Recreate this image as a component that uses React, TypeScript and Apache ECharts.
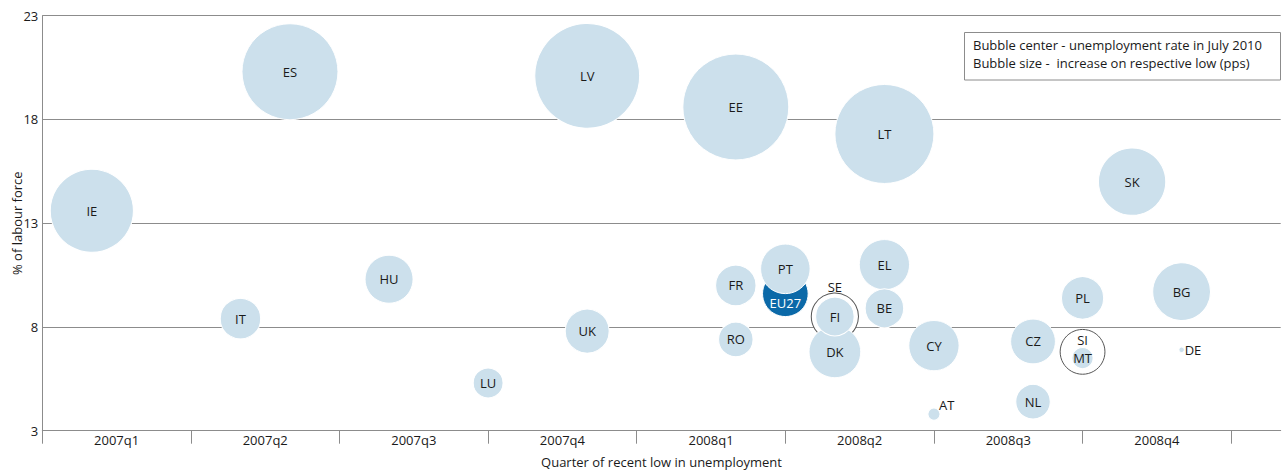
import React, { useEffect, useRef } from "react";
import * as echarts from "echarts";

// Country codes (draw order matters: later items are drawn on top)
const countries = ["IE", "IT", "ES", "HU", "LU", "UK", "LV", "FR", "RO", "EE", "EU27", "PT", "SE", "DK", "FI", "LT", "EL", "BE", "CY", "AT", "CZ", "NL", "SI", "MT", "PL", "SK", "BG", "DE"];
// Month position of the recent low (0 = start of 2007q1)
const lowMonth = [1, 4, 5, 7, 9, 11, 11, 14, 14, 14, 15, 15, 16, 16, 16, 17, 17, 17, 18, 18, 20, 20, 21, 21, 21, 22, 23, 23];
// Unemployment rate in July 2010 (% of labour force)
const rateJuly2010 = [13.6, 8.4, 20.3, 10.3, 5.3, 7.8, 20.1, 10.0, 7.4, 18.6, 9.6, 10.8, 8.5, 6.8, 8.5, 17.3, 11.0, 8.9, 7.1, 3.8, 7.3, 4.4, 6.8, 6.5, 9.4, 15.0, 9.7, 6.9];
// Increase on respective low (pps)
const increasePps = [9.3, 2.2, 12.4, 3.1, 1.2, 2.6, 14.8, 2.2, 1.6, 15.1, 2.8, 3.3, 3.0, 3.6, 2.0, 13.2, 3.4, 2.0, 3.4, 0.2, 2.7, 1.6, 2.7, 0.6, 2.4, 6.1, 4.5, 0.04];

// Axis tick labels
const quarterLabels = ["2007q1", "2007q2", "2007q3", "2007q4", "2008q1", "2008q2", "2008q3", "2008q4"];
const yTicks = [3, 8, 13, 18, 23];

const legendLines = ["Bubble center - unemployment rate in July 2010", "Bubble size -  increase on respective low (pps)"];

const FONT = "'Open Sans', 'Noto Sans', sans-serif";
const BUBBLE = "#cce0ec";
const EU_BLUE = "#0b69a8";
const GRAY = "#8c8c8c";
const TXT = "#1a1a1a";
const R_SCALE = 13.63;

const outlined = new Set(["SE", "SI"]);

function labelFor(code: string): any {
  const base: any = { show: true, formatter: code, fontFamily: FONT, fontSize: 13, color: TXT, position: "inside" };
  switch (code) {
    case "EU27":
      return { ...base, color: "#ffffff", offset: [0, 9] };
    case "SE":
      return { ...base, offset: [0, -30] };
    case "SI":
      return { ...base, offset: [0, -12] };
    case "AT":
      return { ...base, align: "left", offset: [5, -9] };
    case "DE":
      return { ...base, align: "left", offset: [3, 0] };
    default:
      return base;
  }
}

function itemStyleFor(code: string): any {
  if (outlined.has(code)) return { color: "#ffffff", borderColor: "#555555", borderWidth: 1, opacity: 1 };
  if (code === "EU27") return { color: EU_BLUE, borderColor: "#ffffff", borderWidth: 1, opacity: 1 };
  return { color: BUBBLE, borderColor: "#ffffff", borderWidth: 1, opacity: 1 };
}

export default function App() {
  const ref = useRef<HTMLDivElement>(null);

  useEffect(() => {
    if (!ref.current) return;
    const chart = echarts.init(ref.current, undefined, { renderer: "svg" });

    const data = countries.map((c, i) => ({
      name: c,
      value: [lowMonth[i], rateJuly2010[i], increasePps[i]],
      symbolSize: 2 * R_SCALE * Math.sqrt(increasePps[i]),
      itemStyle: itemStyleFor(c),
      label: labelFor(c),
    }));

    const tickValues = quarterLabels.map((_, i) => i * 3).concat([quarterLabels.length * 3]);
    const labelValues = quarterLabels.map((_, i) => i * 3 + 1.5);

    chart.setOption({
      animation: false,
      backgroundColor: "#ffffff",
      textStyle: { fontFamily: FONT },
      grid: { left: 42.3, right: 1.3, top: 15.7, bottom: 45.3, containLabel: false, outerBoundsMode: "none" },
      xAxis: {
        type: "value",
        min: 0,
        max: 25,
        name: "Quarter of recent low in unemployment",
        nameLocation: "middle",
        nameGap: 25,
        nameMoveOverlap: false,
        nameTextStyle: { fontFamily: FONT, fontSize: 13, color: TXT },
        axisLine: { show: true, lineStyle: { color: GRAY, width: 1 } },
        axisTick: { show: true, customValues: tickValues, length: 13, lineStyle: { color: GRAY, width: 1 } },
        axisLabel: {
          show: true,
          customValues: labelValues,
          formatter: (v: number) => quarterLabels[Math.round((v - 1.5) / 3)] ?? "",
          margin: 3,
          fontFamily: FONT,
          fontSize: 13,
          color: TXT,
        },
        splitLine: { show: false },
      },
      yAxis: {
        type: "value",
        min: yTicks[0],
        max: yTicks[yTicks.length - 1],
        interval: 5,
        name: "% of labour force",
        nameLocation: "middle",
        nameGap: 19,
        nameMoveOverlap: false,
        nameTextStyle: { fontFamily: FONT, fontSize: 13, color: TXT },
        axisLine: { show: true, lineStyle: { color: GRAY, width: 1 } },
        axisTick: { show: false },
        axisLabel: { margin: 4, fontFamily: FONT, fontSize: 13, color: TXT },
        splitLine: { show: true, lineStyle: { color: GRAY, width: 1 } },
      },
      series: [
        {
          type: "scatter",
          data,
          symbol: "circle",
          itemStyle: { opacity: 1 },
          emphasis: { disabled: true },
        },
      ],
      graphic: [
        {
          type: "rect",
          shape: { x: 964.5, y: 32.5, width: 316, height: 47.5 },
          style: { fill: "#ffffff", stroke: GRAY, lineWidth: 1 },
          z: 100,
        },
        {
          type: "text",
          x: 973,
          y: 45,
          style: { text: legendLines[0], fontFamily: FONT, fontSize: 13, fill: TXT, verticalAlign: "middle", align: "left" },
          z: 101,
        },
        {
          type: "text",
          x: 973,
          y: 63,
          style: { text: legendLines[1], fontFamily: FONT, fontSize: 13, fill: TXT, verticalAlign: "middle", align: "left" },
          z: 101,
        },
      ],
    });

    return () => chart.dispose();
  }, []);

  return <div ref={ref} style={{ position: "fixed", left: 0, top: 0, width: 1282, height: 476 }} />;
}
